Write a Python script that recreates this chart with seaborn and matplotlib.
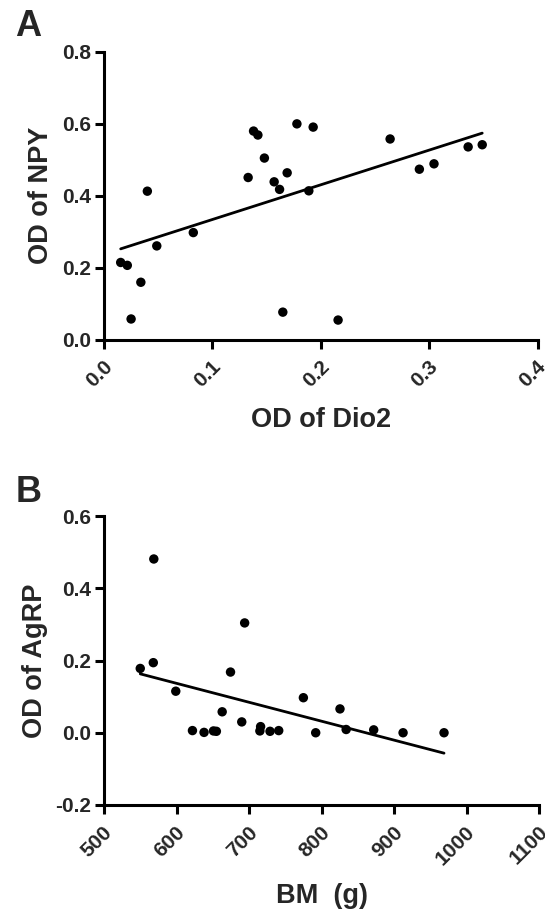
import numpy as np
import pandas as pd
import matplotlib
matplotlib.use("Agg")
import matplotlib.pyplot as plt
import matplotlib.transforms as mtransforms
import seaborn as sns

# Panel A: hypothalamic NPY vs Dio2 optical density
dio2 = [0.0154, 0.0215, 0.025, 0.034, 0.040, 0.0487, 0.0824, 0.133, 0.138,
        0.142, 0.148, 0.157, 0.162, 0.169, 0.165, 0.178, 0.193, 0.189, 0.216,
        0.264, 0.291, 0.3045, 0.336, 0.349]
npy = [0.214, 0.206, 0.057, 0.159, 0.412, 0.260, 0.297, 0.450, 0.579,
       0.568, 0.504, 0.438, 0.417, 0.463, 0.076, 0.599, 0.590, 0.413, 0.054,
       0.557, 0.473, 0.488, 0.535, 0.541]

# Panel B: AgRP optical density vs body mass
bm = [550, 568.7, 568, 599, 622, 638, 651, 655, 663, 674.5, 690, 694, 715,
      716, 729, 741, 775, 792, 825.5, 834, 872, 912.5, 969]
agrp = [0.178, 0.481, 0.194, 0.115, 0.006, 0.001, 0.005, 0.004, 0.058, 0.168,
        0.030, 0.304, 0.005, 0.017, 0.004, 0.006, 0.097, 0.0, 0.066, 0.009,
        0.008, 0.0, 0.0]

a_xticks = [0.0, 0.1, 0.2, 0.3, 0.4]
a_yticks = [0.0, 0.2, 0.4, 0.6, 0.8]
b_xticks = [500, 600, 700, 800, 900, 1000, 1100]
b_yticks = [-0.2, 0.0, 0.2, 0.4, 0.6]

sns.set_style("ticks")
plt.rcParams["font.family"] = ["Liberation Sans", "DejaVu Sans"]
plt.rcParams["font.weight"] = "bold"

fig = plt.figure(figsize=(5.45, 9.15), dpi=100)
W, H = 545, 915


def px_axes(left, top, right, bottom):
    return fig.add_axes([left / W, 1 - bottom / H, (right - left) / W, (bottom - top) / H])


def style(ax, xticks, yticks, xfmt, yfmt, xlabel, ylabel, xlabel_y, ylabel_x):
    ax.set_xlim(xticks[0], xticks[-1])
    ax.set_ylim(yticks[0], yticks[-1])
    ax.set_xticks(xticks)
    ax.set_yticks(yticks)
    ax.tick_params(axis="both", width=2.2, length=6.5, color="black", pad=3)
    ax.set_xticklabels([xfmt(v) for v in xticks], rotation=45, ha="right", va="center",
                       rotation_mode="anchor", fontsize=15, fontweight="bold")
    ax.set_yticklabels([yfmt(v) for v in yticks], fontsize=15, fontweight="bold")
    # push the slanted labels down and to the right of their ticks
    shift = mtransforms.ScaledTranslation(4 / 72, -8 / 72, fig.dpi_scale_trans)
    for tick in ax.xaxis.get_major_ticks():
        tick.label1.set_transform(tick.label1.get_transform() + shift)
    for side in ("top", "right"):
        ax.spines[side].set_visible(False)
    for side in ("left", "bottom"):
        ax.spines[side].set_linewidth(2.2)
        ax.spines[side].set_color("black")
    ax.set_xlabel(xlabel, fontsize=19.5, fontweight="bold", va="center")
    ax.set_ylabel(ylabel, fontsize=19.5, fontweight="bold", va="center")
    ax.xaxis.set_label_coords(0.5, xlabel_y)
    ax.yaxis.set_label_coords(ylabel_x, 0.5)


dot_kws = dict(s=46, color="black", alpha=1, edgecolor="none", zorder=3, clip_on=False)
fit_kws = dict(color="black", lw=2.0)

# axes frames in pixel coordinates: left, top, right, bottom
A_BOX = (104, 51.5, 537.5, 339.5)
B_BOX = (104, 516, 539, 805)

dfa = pd.DataFrame({"Dio2": dio2, "NPY": npy})
axA = px_axes(*A_BOX)
sns.regplot(data=dfa, x="Dio2", y="NPY", ax=axA, ci=None,
            scatter_kws=dot_kws, line_kws=fit_kws)
style(axA, a_xticks, a_yticks, lambda v: f"{v:.1f}", lambda v: f"{v:.1f}",
      "OD of Dio2", "OD of NPY",
      (A_BOX[3] - 420) / (A_BOX[3] - A_BOX[1]), (41 - A_BOX[0]) / (A_BOX[2] - A_BOX[0]))

dfb = pd.DataFrame({"BM": bm, "AgRP": agrp})
axB = px_axes(*B_BOX)
sns.regplot(data=dfb, x="BM", y="AgRP", ax=axB, ci=None,
            scatter_kws=dot_kws, line_kws=fit_kws)
style(axB, b_xticks, b_yticks, lambda v: f"{v:d}", lambda v: f"{v:.1f}",
      "BM  (g)", "OD of AgRP",
      (B_BOX[3] - 896) / (B_BOX[3] - B_BOX[1]), (35 - B_BOX[0]) / (B_BOX[2] - B_BOX[0]))

fig.text(15 / W, 1 - 36 / H, "A", fontsize=26, fontweight="bold", va="baseline")
fig.text(16 / W, 1 - 502 / H, "B", fontsize=26, fontweight="bold", va="baseline")

fig.savefig("out.png", dpi=100, facecolor="white")
